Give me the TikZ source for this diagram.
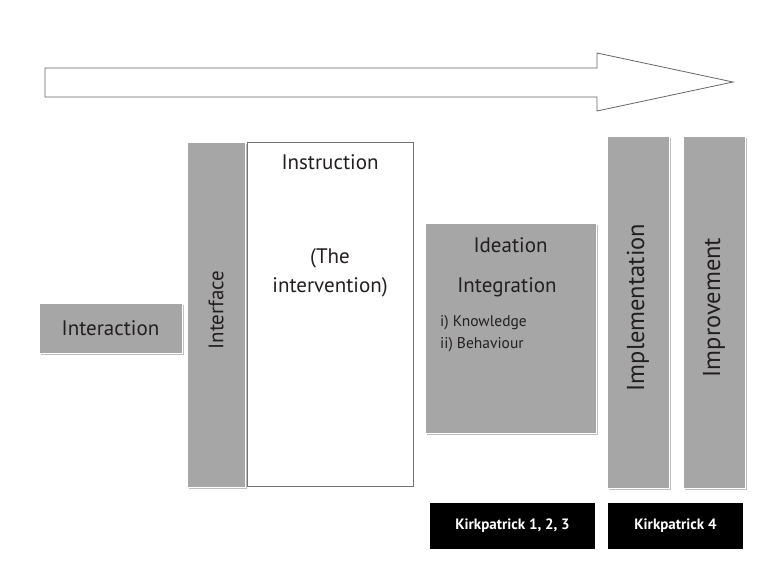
\documentclass[tikz,border=0pt]{standalone}
\usepackage{fontspec}
\setmainfont{PT Sans}
\usetikzlibrary{shadows}
\definecolor{boxgray}{HTML}{A6A6A6}
\definecolor{txt}{HTML}{231F20}
\begin{document}
\begin{tikzpicture}[x=1pt,y=-1pt,
  graybox/.style={fill=boxgray, draw=white, line width=1pt, inner sep=0pt,
    drop shadow={shadow xshift=1.5pt, shadow yshift=-1.5pt, fill=black!25, opacity=1}},
  whitebox/.style={fill=white, draw=black!55, line width=0.7pt, inner sep=0pt},
  blackbox/.style={fill=black, draw=none, inner sep=0pt, text=white,
    font=\fontsize{15}{18}\selectfont\bfseries},
  lbl/.style={text=txt, inner sep=0pt, font=\fontsize{21}{25}\selectfont},
  big/.style={text=txt, inner sep=0pt, font=\fontsize{24.5}{29}\selectfont},
  small/.style={text=txt, inner sep=0pt, font=\fontsize{15.5}{20}\selectfont, align=left}
]
\useasboundingbox (0,0) rectangle (784,579);
% big arrow
\draw[draw=black!60, line width=0.8pt, fill=white]
  (45,68) -- (597,68) -- (597,53) -- (733,82) -- (597,111) -- (597,97) -- (45,97) -- cycle;

\node[graybox, minimum width=143pt, minimum height=50pt] (interaction) at (110.5,328) {};
\node[lbl] at (interaction.center) {Interaction};

\node[graybox, minimum width=58pt, minimum height=345pt] (interface) at (216,314.5) {};
\node[lbl, rotate=90] at (216,310) {Interface};

\node[whitebox, minimum width=166pt, minimum height=344pt] (instruction) at (330,314) {};
\node[lbl] at (330,162) {Instruction};
\node[lbl] at (330,258) {(The};
\node[lbl] at (330,287) {intervention)};

\node[graybox, minimum width=171pt, minimum height=210pt] (ideation) at (510.5,328) {};
\node[lbl] at (510.5,245) {Ideation};
\node[lbl] at (507,287) {Integration};
\node[small, anchor=west] at (440,323) {i) Knowledge};
\node[small, anchor=west] at (440,345) {ii) Behaviour};

\node[graybox, minimum width=62pt, minimum height=352pt] (implementation) at (638,312) {};
\node[big, rotate=90] at (638,307.5) {Implementation};

\node[graybox, minimum width=62pt, minimum height=352pt] (improvement) at (714,312) {};
\node[big, rotate=90] at (714,307.5) {Improvement};

\node[blackbox, minimum width=165pt, minimum height=46pt] (kp123) at (512.5,526) {Kirkpatrick 1, 2, 3};
\node[blackbox, minimum width=135pt, minimum height=46pt] (kp4) at (675.5,526) {Kirkpatrick 4};
\end{tikzpicture}
\end{document}
